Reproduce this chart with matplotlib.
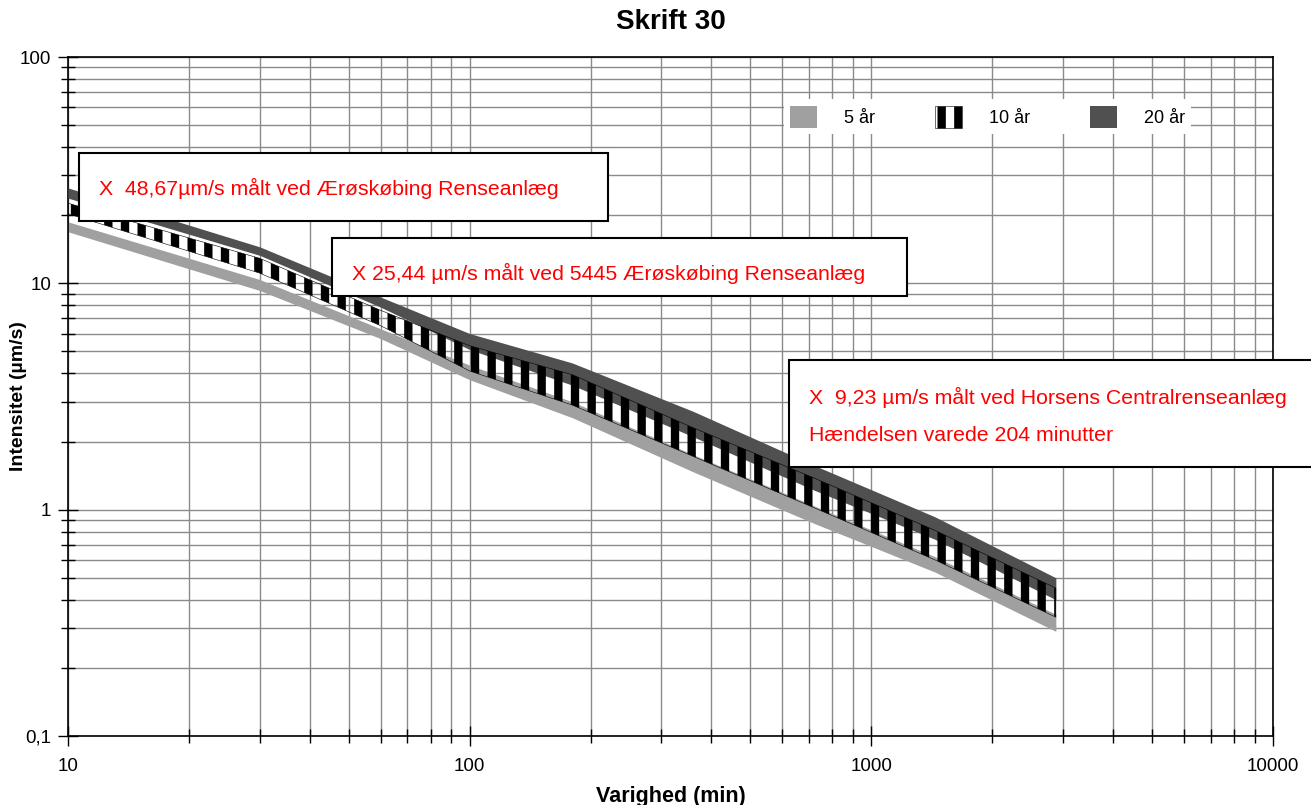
import matplotlib
matplotlib.use('Agg')
import matplotlib.pyplot as plt
from matplotlib.patches import Patch, Rectangle
from matplotlib.ticker import LogLocator, FixedLocator, NullFormatter

plt.rcParams['font.family'] = ['Liberation Sans', 'DejaVu Sans']
plt.rcParams['hatch.linewidth'] = 6.0

# varighed (min) og intensitet (µm/s) for de tre gentagelsesperioder
varighed = [10, 30, 60, 100, 180, 360, 720, 1440, 2880]
aar5_lo = [16.9, 9.3, 5.7, 3.75, 2.55, 1.47, 0.87, 0.53, 0.29]
aar5_hi = [18.7, 10.4, 6.3, 4.35, 3.0, 1.75, 1.04, 0.62, 0.345]
aar10_lo = [20.3, 11.1, 6.5, 4.1, 2.9, 1.72, 1.02, 0.60, 0.335]
aar10_hi = [22.6, 12.9, 7.6, 5.3, 3.95, 2.3, 1.38, 0.81, 0.45]
aar20_lo = [23.8, 13.3, 7.85, 5.1, 3.55, 2.1, 1.22, 0.74, 0.40]
aar20_hi = [26.4, 14.5, 8.7, 6.0, 4.45, 2.72, 1.57, 0.93, 0.50]

y_ticks = [0.1, 1, 10, 100]
y_ticklabels = ['0,1', '1', '10', '100']
x_ticks = [10, 100, 1000, 10000]
x_ticklabels = ['10', '100', '1000', '10000']

W, H = 1311, 805
fig = plt.figure(figsize=(W / 100, H / 100), dpi=100)
ax = fig.add_axes([68 / W, 1 - 736 / H, 1205 / W, 679 / H])

light = '#a0a0a0'
dark = '#505050'
ax.fill_between(varighed, aar5_lo, aar5_hi, color=light, lw=0, zorder=2)
ax.fill_between(varighed, aar20_lo, aar20_hi, color=dark, lw=0, zorder=3)
ax.fill_between(varighed, aar10_lo, aar10_hi, facecolor='none', edgecolor='black',
                hatch='|', lw=0.4, zorder=4)

ax.set_xscale('log')
ax.set_yscale('log')
ax.set_xlim(10, 10000)
ax.set_ylim(0.1, 100)

ax.xaxis.set_major_locator(FixedLocator(x_ticks))
ax.set_xticklabels(x_ticklabels)
ax.yaxis.set_major_locator(FixedLocator(y_ticks))
ax.set_yticklabels(y_ticklabels)
ax.xaxis.set_minor_locator(LogLocator(base=10, subs=range(2, 10)))
ax.yaxis.set_minor_locator(LogLocator(base=10, subs=range(2, 10)))
ax.xaxis.set_minor_formatter(NullFormatter())
ax.yaxis.set_minor_formatter(NullFormatter())

ax.grid(True, which='both', color='#8a8a8a', lw=1.0, zorder=1)
ax.set_axisbelow(True)
ax.tick_params(axis='both', which='major', direction='inout', length=14, width=1,
               labelsize=13.5, colors='black')
ax.tick_params(axis='both', which='minor', direction='inout', length=10, width=1)
ax.tick_params(axis='y', pad=5)
ax.tick_params(axis='x', pad=9)
for s in ax.spines.values():
    s.set_linewidth(1.2)

ax.set_xlabel('Varighed (min)', fontsize=15.5, fontweight='bold')
ax.set_ylabel('Intensitet (µm/s)', fontsize=14, fontweight='bold')
ax.xaxis.set_label_coords(0.5, -0.073)
ax.yaxis.set_label_coords(-0.034, 0.5)
fig.text((68 + 1273) / 2 / W, 1 - 22 / H, 'Skrift 30', ha='center', va='center',
         fontsize=20, fontweight='bold')

handles = [Patch(facecolor=light, edgecolor='none', label='5 år'),
           Patch(facecolor='white', edgecolor='black', hatch='|', lw=0.4, label='10 år'),
           Patch(facecolor=dark, edgecolor='none', label='20 år')]
leg = ax.legend(handles=handles, ncol=3, loc='center', bbox_to_anchor=(0.763, 0.912),
                fontsize=13, handlelength=1.5, handleheight=1.5, handletextpad=1.5,
                columnspacing=3.3, frameon=True, fancybox=False, borderpad=0.35)
leg.get_frame().set_edgecolor('none')
leg.get_frame().set_alpha(1)
leg.set_zorder(6)

# tekstbokse
boxes = [
    ((79, 153, 529, 68), [(99, 188, 'X  48,67µm/s målt ved Ærøskøbing Renseanlæg')]),
    ((332, 238, 575, 58), [(352, 273, 'X 25,44 µm/s målt ved 5445 Ærøskøbing Renseanlæg')]),
    ((789, 360, 540, 107), [(809, 397, 'X  9,23 µm/s målt ved Horsens Centralrenseanlæg'),
                            (809, 435, 'Hændelsen varede 204 minutter')]),
]
for (bx, by, bw, bh), texts in boxes:
    fig.add_artist(Rectangle((bx / W, 1 - (by + bh) / H), bw / W, bh / H,
                             transform=fig.transFigure, facecolor='white',
                             edgecolor='black', lw=1.5, zorder=10))
    for tx, ty, s in texts:
        fig.text(tx / W, 1 - ty / H, s, color='red', fontsize=15.3, ha='left',
                 va='center', zorder=11)

fig.savefig('out.png', dpi=100)
